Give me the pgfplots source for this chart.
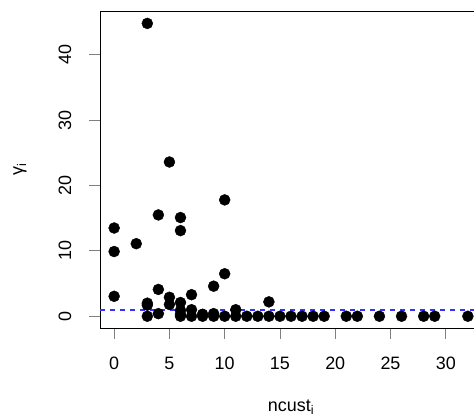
\documentclass[border=0pt]{standalone}
\usepackage{fontspec}
\setmainfont{Liberation Sans}
\usepackage{pgfplots}
\pgfplotsset{compat=1.18}
\definecolor{rblue}{RGB}{0,0,255}

\begin{document}
\begin{tikzpicture}[x=1bp,y=1bp]
\useasboundingbox (0,0) rectangle (474,416);
\begin{scope}
\clip (0,0) rectangle (474,416);
\begin{axis}[
  at={(100bp,88bp)}, anchor=south west,
  scale only axis, width=382bp, height=317bp,
  xmin=-1.28, xmax=33.28, ymin=-1.8, ymax=46.7,
  axis line style={line width=0.8bp},
  xtick={0,5,...,30}, ytick={0,10,...,40},
  tick pos=left, tick align=outside,
  major tick length=11bp,
  tick style={line width=0.8bp},
  /pgf/number format/assume math mode=true,
  tick label style={font=\fontsize{18}{21}\selectfont},
  label style={font=\fontsize{18}{21}\selectfont},
  xticklabel style={anchor=center, yshift=-24bp},
  yticklabel style={xshift=-24bp, rotate=90, anchor=center},
  xlabel={ncust\textsubscript{i}},
  ylabel={γ\textsubscript{i}},
  xlabel style={at={(axis description cs:0.5,-0.2492)}, anchor=center},
  ylabel style={at={(axis description cs:-0.2094,0.5)}, anchor=center},
]
\addplot[only marks, mark=*, mark size=5.5bp, draw=black, fill=black] coordinates {
  (0,13.5) (0,9.9) (0,3.05)
  (2,11.1)
  (3,44.8) (3,2.0) (3,1.7) (3,0)
  (4,15.5) (4,4.1) (4,0.4)
  (5,23.6) (5,2.9) (5,1.8)
  (6,15.1) (6,13.1) (6,2.1) (6,0.9) (6,0.3) (6,0)
  (7,3.3) (7,1.0) (7,0)
  (8,0.3) (8,0)
  (9,4.6) (9,0.4) (9,0)
  (10,17.8) (10,6.5) (10,0)
  (11,1.0) (11,0)
  (12,0) (13,0)
  (14,2.2) (14,0)
  (15,0) (16,0) (17,0) (18,0) (19,0)
  (21,0) (22,0) (24,0) (26,0) (28,0) (29,0) (32,0)
};
\addplot[color=rblue!80!white, no marks, line width=1.6bp, dash pattern=on 5bp off 5bp] coordinates {(-1.28,1) (33.28,1)};
\end{axis}
\end{scope}
\end{tikzpicture}
\end{document}
